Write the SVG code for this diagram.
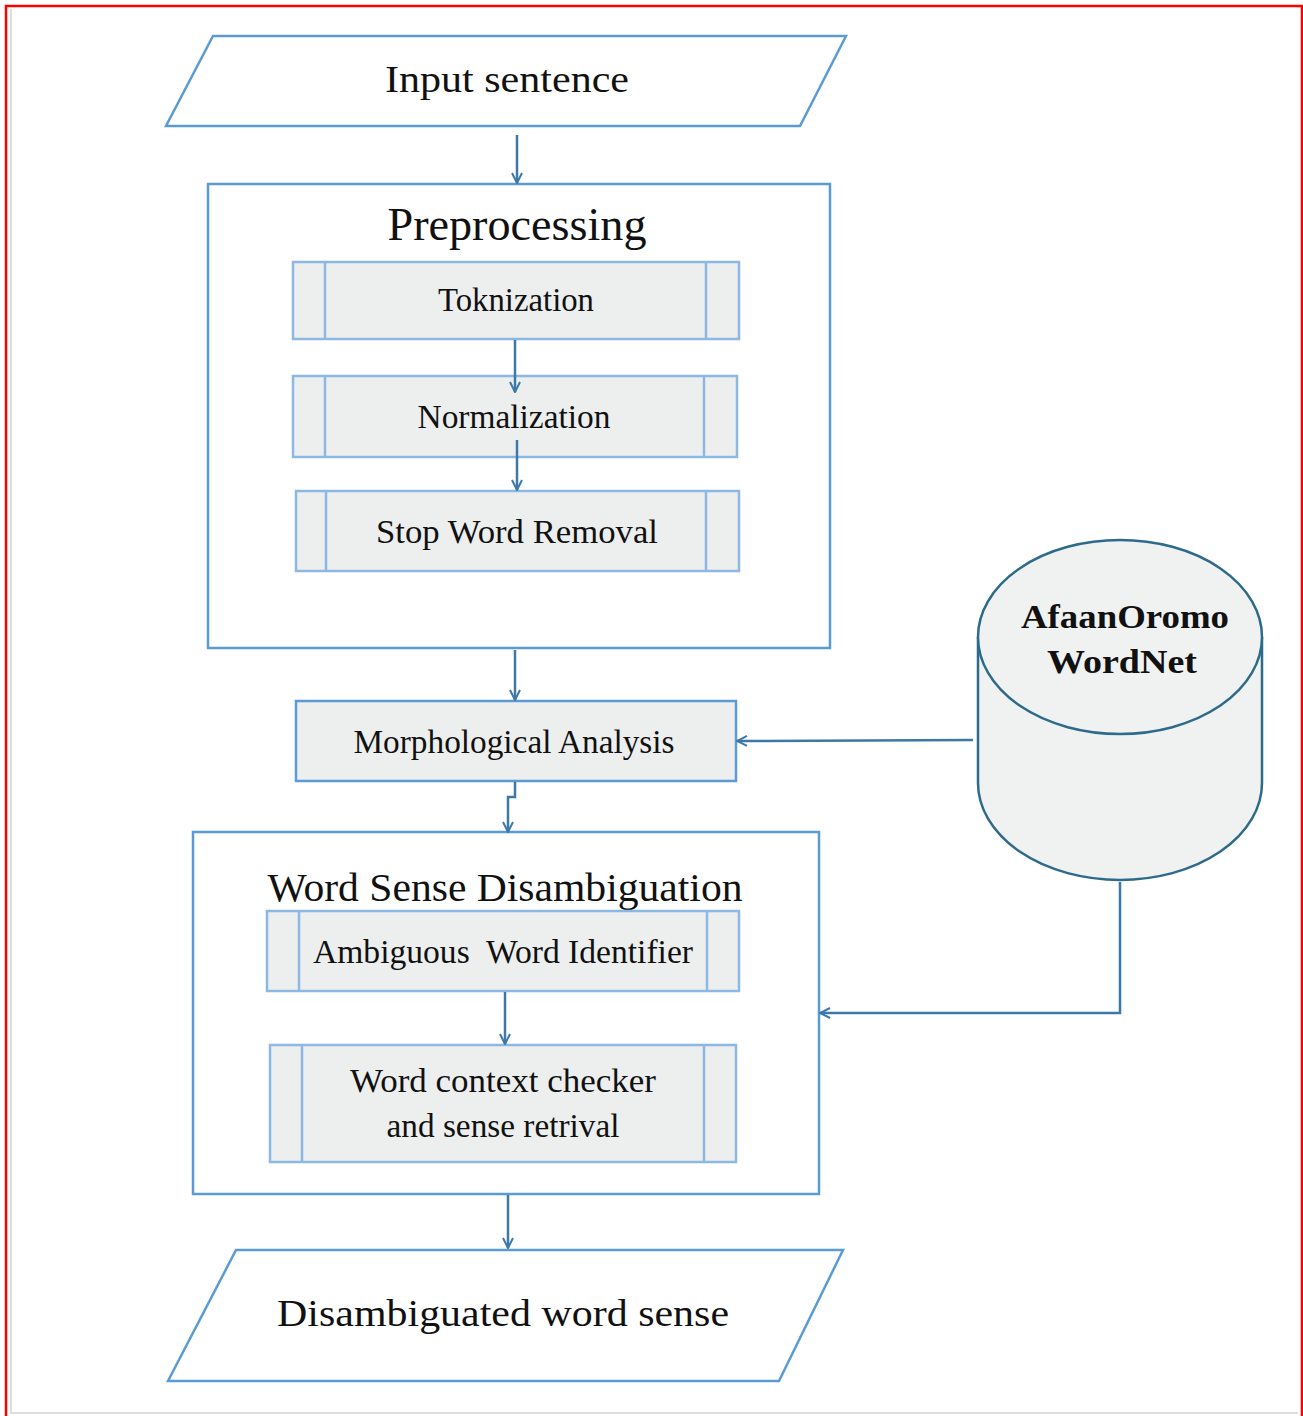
<svg xmlns="http://www.w3.org/2000/svg" width="1303" height="1416" viewBox="0 0 1303 1416">
<style>
.t{font-family:"Liberation Serif","Times New Roman",serif;fill:#111;text-anchor:middle}
.io{fill:#fff;stroke:#5B9BD5;stroke-width:2.5}
.grp{fill:#fff;stroke:#5B9BD5;stroke-width:2.5}
.sub{fill:#EDEFEF;stroke:#8DB8E4;stroke-width:2.5}
.proc{fill:#EDEFEF;stroke:#5B9BD5;stroke-width:2.5}
.con{fill:none;stroke:#3D78AA;stroke-width:2.5}
.db{fill:#F0F2F2;stroke:#2E6B8A;stroke-width:2.5}
</style>
<defs>
<marker id="arr" viewBox="0 0 12 12" refX="11" refY="6" markerWidth="12" markerHeight="12" markerUnits="userSpaceOnUse" orient="auto">
<path d="M1,1 L11,6 L1,11" fill="none" stroke="#3D78AA" stroke-width="2"/>
</marker>
</defs>
<rect x="0" y="0" width="1303" height="1416" fill="#fff"/>
<rect x="6" y="6" width="1296" height="1420" fill="none" stroke="#FF0000" stroke-width="2.5"/>
<path d="M11,9 V1413 H1298" fill="none" stroke="#DDDDDD" stroke-width="2"/>

<g id="input">
<polygon class="io" points="213,36 846,36 800,126 166,126"/>
<text class="t" x="507" y="92" font-size="37" textLength="244" lengthAdjust="spacingAndGlyphs">Input sentence</text>
</g>

<g id="preprocessing">
<rect class="grp" x="208" y="184" width="622" height="464"/>
<text class="t" x="517" y="240" font-size="46" textLength="259" lengthAdjust="spacingAndGlyphs">Preprocessing</text>
</g>

<g id="toknization">
<rect class="sub" x="293" y="262" width="446" height="77"/>
<path class="sub" d="M325,262 V339 M706,262 V339" fill="none"/>
<text class="t" x="516" y="311" font-size="33" textLength="156" lengthAdjust="spacingAndGlyphs">Toknization</text>
</g>

<g id="normalization">
<rect class="sub" x="293" y="376" width="444" height="81"/>
<path class="sub" d="M325,376 V457 M704,376 V457" fill="none"/>
<text class="t" x="514" y="428" font-size="33" textLength="193" lengthAdjust="spacingAndGlyphs">Normalization</text>
</g>

<g id="stopword">
<rect class="sub" x="296" y="491" width="443" height="80"/>
<path class="sub" d="M326,491 V571 M706,491 V571" fill="none"/>
<text class="t" x="517" y="543" font-size="33" textLength="282" lengthAdjust="spacingAndGlyphs">Stop Word Removal</text>
</g>

<g id="morph">
<rect class="proc" x="296" y="701" width="440" height="80"/>
<text class="t" x="514" y="753" font-size="33" textLength="321" lengthAdjust="spacingAndGlyphs">Morphological Analysis</text>
</g>

<g id="wsd">
<rect class="grp" x="193" y="832" width="626" height="362"/>
<text class="t" x="505" y="901" font-size="40" textLength="475" lengthAdjust="spacingAndGlyphs">Word Sense Disambiguation</text>
</g>

<g id="ambiguous">
<rect class="sub" x="267" y="911" width="472" height="80"/>
<path class="sub" d="M299,911 V991 M707,911 V991" fill="none"/>
<text class="t" x="503" y="963" font-size="33" textLength="380" lengthAdjust="spacingAndGlyphs" xml:space="preserve">Ambiguous  Word Identifier</text>
</g>

<g id="context">
<rect class="sub" x="270" y="1045" width="466" height="117"/>
<path class="sub" d="M302,1045 V1162 M704,1045 V1162" fill="none"/>
<text class="t" x="503" y="1092" font-size="33" textLength="306" lengthAdjust="spacingAndGlyphs">Word context checker</text>
<text class="t" x="503" y="1137" font-size="33" textLength="233" lengthAdjust="spacingAndGlyphs">and sense retrival</text>
</g>

<g id="output">
<polygon class="io" points="236,1250 843,1250 779,1381 168,1381"/>
<text class="t" x="503" y="1326" font-size="38" textLength="452" lengthAdjust="spacingAndGlyphs">Disambiguated word sense</text>
</g>

<g id="wordnet">
<path class="db" d="M978,637 V783 A142,97 0 0 0 1262,783 V637"/>
<ellipse class="db" cx="1120" cy="637" rx="142" ry="97"/>
<text class="t" x="1125" y="628" font-size="34" font-weight="bold" textLength="208" lengthAdjust="spacingAndGlyphs">AfaanOromo</text>
<text class="t" x="1122" y="673" font-size="34" font-weight="bold" textLength="150" lengthAdjust="spacingAndGlyphs">WordNet</text>
</g>

<g id="connectors">
<path class="con" d="M517,135 V183" marker-end="url(#arr)"/>
<path class="con" d="M515,340 V392" marker-end="url(#arr)"/>
<path class="con" d="M517,440 V490" marker-end="url(#arr)"/>
<path class="con" d="M515,650 V700" marker-end="url(#arr)"/>
<path class="con" d="M973,740 L737,741" marker-end="url(#arr)"/>
<path class="con" d="M515,782 V797 H508 V832" marker-end="url(#arr)"/>
<path class="con" d="M505,992 V1044" marker-end="url(#arr)"/>
<path class="con" d="M1120,882 V1013 H820" marker-end="url(#arr)"/>
<path class="con" d="M508,1195 V1248" marker-end="url(#arr)"/>
</g>
</svg>
